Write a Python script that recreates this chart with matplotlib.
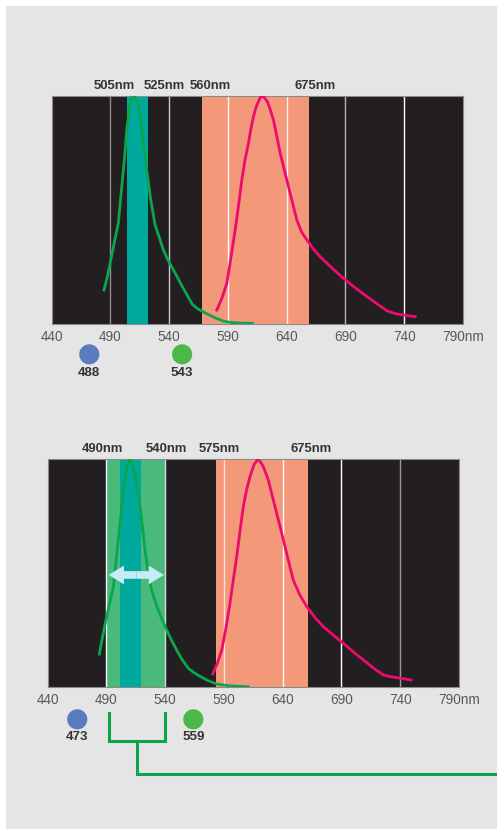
import numpy as np
import matplotlib
matplotlib.use('Agg')
import matplotlib.pyplot as plt
from matplotlib.patches import Rectangle

plt.rcParams['font.family'] = ['Liberation Sans', 'DejaVu Sans']

# ---- data ----
ticks = [440, 490, 540, 590, 640, 690, 740, 790]
tick_labels = ['440', '490', '540', '590', '640', '690', '740', '790nm']

# top panel
green1_x = [484.5, 487.5, 489.7, 493.0, 496.7, 499.6, 502.0, 503.9, 506.7, 508.5, 510.3,
            512.0, 513.8, 516.0, 518.0, 520.9, 524.3, 528.0, 531.5, 535.0, 539.0, 543.6,
            548.0, 552.0, 556.0, 559.7, 564.0, 569.1, 575.0, 580.5, 586.0, 591.8, 600.0, 610.8]
green1_y = [0.149, 0.21, 0.266, 0.35, 0.442, 0.602, 0.73, 0.851, 0.968, 0.993, 1.0,
            0.985, 0.953, 0.88, 0.792, 0.675, 0.544, 0.434, 0.38, 0.325, 0.28, 0.237,
            0.195, 0.156, 0.12, 0.086, 0.068, 0.053, 0.037, 0.024, 0.013, 0.007, 0.004, 0.003]
red1_x = [580.5, 585.0, 589.0, 592.5, 596.1, 599.0, 601.8, 604.5, 607.4, 609.5, 611.7,
          613.8, 615.9, 617.5, 618.8, 621.0, 623.6, 626.0, 628.7, 631.5, 634.4, 638.0,
          641.5, 645.0, 648.6, 652.5, 657.2, 662.5, 668.5, 678.0, 688.3, 698.0, 708.3,
          717.0, 725.3, 732.0, 739.4, 749.4]
red1_y = [0.061, 0.115, 0.178, 0.29, 0.412, 0.52, 0.632, 0.72, 0.792, 0.855, 0.909,
          0.95, 0.975, 0.993, 1.0, 0.993, 0.975, 0.94, 0.895, 0.825, 0.749, 0.675,
          0.602, 0.53, 0.456, 0.405, 0.368, 0.33, 0.295, 0.248, 0.2, 0.16, 0.12,
          0.088, 0.058, 0.046, 0.039, 0.032]
teal1 = (504, 522)
salmon1 = (568, 659)
labels1 = ['505nm', '525nm', '560nm', '675nm']
labels1_x = [493, 535.6, 574.5, 664.2]
lasers1 = [472, 551]
lasers1_txt = ['488', '543']
grid1_col = ['#8c8c8c', '#c8c8c8', '#ffffff', '#f4f4f4', '#b4b4b4', '#ffffff']

# bottom panel
green2_x = [484.1, 487.0, 490.3, 493.0, 496.0, 498.0, 500.2, 502.5, 504.5, 507.4, 510.2,
            512.3, 514.4, 516.5, 518.7, 520.8, 522.9, 525.3, 527.8, 531.0, 534.2, 537.8,
            541.4, 545.5, 549.9, 554.5, 559.8, 564.5, 569.7, 576.5, 583.9, 595.0, 610.8]
green2_y = [0.145, 0.225, 0.309, 0.37, 0.44, 0.54, 0.646, 0.76, 0.865, 0.968, 1.0,
            0.975, 0.939, 0.87, 0.792, 0.7, 0.602, 0.515, 0.44, 0.385, 0.338, 0.292,
            0.25, 0.205, 0.162, 0.12, 0.082, 0.063, 0.047, 0.028, 0.013, 0.005, 0.001]
red2_x = [580.5, 584.5, 588.2, 591.8, 595.2, 598.0, 600.9, 603.7, 606.5, 609.3, 612.2,
          615.5, 618.8, 621.2, 623.5, 625.6, 627.8, 631.3, 634.9, 638.5, 642.0, 645.5,
          649.0, 654.5, 660.5, 667.5, 674.6, 683.0, 691.6, 700.0, 708.6, 717.0, 725.6,
          731.0, 737.0, 743.0, 749.2]
red2_y = [0.057, 0.105, 0.162, 0.26, 0.368, 0.47, 0.572, 0.685, 0.792, 0.865, 0.924,
          0.975, 1.0, 0.988, 0.968, 0.94, 0.909, 0.836, 0.763, 0.69, 0.616, 0.543,
          0.47, 0.405, 0.353, 0.305, 0.265, 0.228, 0.192, 0.155, 0.119, 0.084, 0.053,
          0.046, 0.041, 0.036, 0.031]
band2 = (490, 540)
teal2 = (502, 519.5)
salmon2 = (583.3, 661.3)
labels2 = ['490nm', '540nm', '575nm', '675nm']
labels2_x = [486.6, 541.4, 585.9, 664.1]
lasers2 = [465.3, 564]
lasers2_txt = ['473', '559']
grid2_col = ['#ffffff', '#d8d8d8', '#fde0d6', '#ffffff', '#ffffff', '#9a9a9a']

BG = '#231f20'
TEAL = '#00a99d'
SALMON = '#f4987a'
LGREEN = '#4aba7c'
GLINE = '#0aa64e'
MAG = '#ec0b6e'
BLUE = '#5b7bc0'
GDOT = '#4cb848'

fig = plt.figure(figsize=(4.97, 8.31), dpi=100)
fig.patch.set_facecolor('white')
fig.patches.append(Rectangle((6 / 497, 2 / 831), 1, 823 / 831, transform=fig.transFigure,
                             facecolor='#e5e5e5', edgecolor='none', zorder=-10))


def panel(ax, gx, gy, rx, ry, bands, grid_cols, labels, labels_x, lasers, lasers_txt, dot_y, txt_y):
    ax.set_facecolor(BG)
    ax.set_xlim(440, 790)
    ax.set_ylim(0, 1)
    for lo, hi, c in bands:
        ax.axvspan(lo, hi, color=c, lw=0, zorder=1)
    for t, c in zip(ticks[1:-1], grid_cols):
        ax.axvline(t, color=c, lw=1, zorder=2)
    ax.plot(gx, gy, color=GLINE, lw=2, zorder=3, solid_joinstyle='round')
    ax.plot(rx, ry, color=MAG, lw=2, zorder=3, solid_joinstyle='round')
    ax.set_yticks([])
    ax.set_xticks(ticks)
    ax.set_xticklabels(tick_labels, fontsize=9.8, color='#5a5a5a')
    ax.tick_params(axis='x', length=0, pad=4)
    for s in ax.spines.values():
        s.set_color('#8a8a8a')
        s.set_linewidth(0.8)
    tr = ax.get_xaxis_transform()
    for lx, lt in zip(labels_x, labels):
        ax.text(lx, 1.045, lt, transform=tr, ha='center', va='center',
                fontsize=9.4, fontweight='bold', color='#333333')
    ax.scatter(lasers, [dot_y, dot_y], s=210, c=[BLUE, GDOT], transform=tr,
               clip_on=False, linewidths=0)
    for lx, lt in zip(lasers, lasers_txt):
        ax.text(lx, txt_y, lt, transform=tr, ha='center', va='center',
                fontsize=9.6, fontweight='bold', color='#333333')
    return tr


ax1 = fig.add_axes([0.104, 0.6101, 0.8276, 0.2744])
panel(ax1, green1_x, green1_y, red1_x, red1_y,
      [(teal1[0], teal1[1], TEAL), (salmon1[0], salmon1[1], SALMON)],
      grid1_col, labels1, labels1_x, lasers1, lasers1_txt, -0.133, -0.215)

ax2 = fig.add_axes([0.0956, 0.1733, 0.828, 0.274])
tr2 = panel(ax2, green2_x, green2_y, red2_x, red2_y,
            [(band2[0], band2[1], LGREEN), (teal2[0], teal2[1], TEAL),
             (salmon2[0], salmon2[1], SALMON)],
            grid2_col, labels2, labels2_x, lasers2, lasers2_txt, -0.142, -0.218)

# double arrow across the tunable band
mid = (band2[0] + band2[1]) / 2 + 0.5
for end in (492, 539):
    ax2.annotate('', xy=(end, 0.492), xytext=(mid, 0.492),
                 arrowprops=dict(arrowstyle='simple,head_length=1.1,head_width=1.35,tail_width=0.55',
                                 mutation_scale=10, lw=0, color='#c6ecf8',
                                 shrinkA=0, shrinkB=0), zorder=4)

# bracket below the band
ax2.plot([492, 492, 540, 540], [-0.113, -0.238, -0.238, -0.113], color=GLINE, lw=2.2,
         transform=tr2, clip_on=False, solid_joinstyle='miter')
ax2.plot([516.4, 516.4, 830], [-0.238, -0.381, -0.381], color=GLINE, lw=2.2,
         transform=tr2, clip_on=False, solid_joinstyle='miter')

fig.savefig('out.png', dpi=100)
